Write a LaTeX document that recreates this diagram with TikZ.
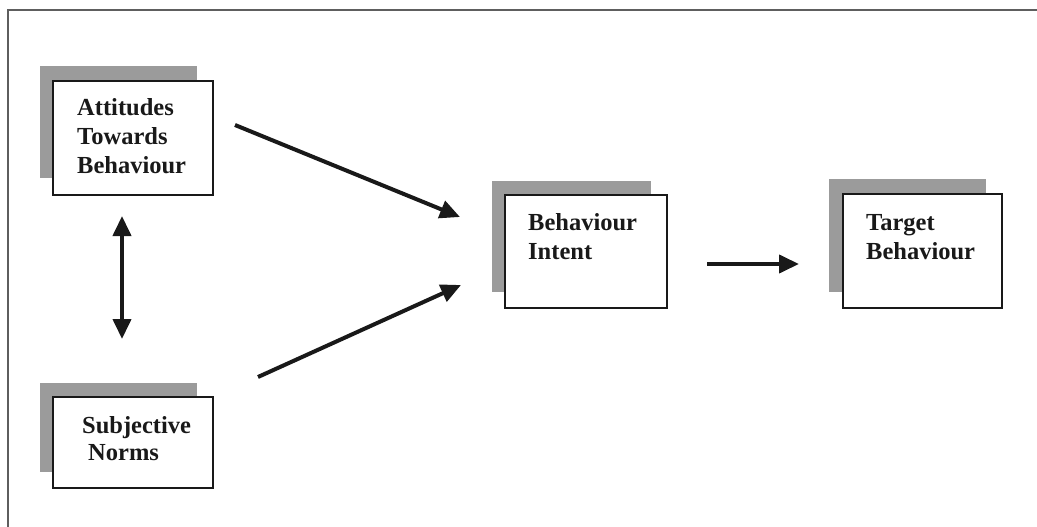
\documentclass[tikz,border=0pt]{standalone}
\usepackage{fontspec}
\setmainfont{Liberation Serif}
\usetikzlibrary{arrows.meta}
\definecolor{shade}{RGB}{155,155,155}
\definecolor{ink}{RGB}{25,25,25}
\tikzset{
  px/.style={x=1pt,y=-1pt},
  shadowbox/.style={fill=shade,draw=none},
  frontbox/.style={draw=ink,line width=1.6pt,fill=white,inner sep=0pt},
  lbl/.style={font=\bfseries\fontsize{24.5}{29}\selectfont,align=left,inner sep=0pt,anchor=base west,text=ink},
  flow/.style={draw=ink,line width=4pt,-{Triangle[length=20pt,width=18pt]}},
  both/.style={draw=ink,line width=4pt,{Triangle[length=20pt,width=18pt]}-{Triangle[length=20pt,width=18pt]}},
  frame/.style={draw=ink!70,line width=2pt}
}
\begin{document}
\begin{tikzpicture}[px]
\useasboundingbox (0,0) rectangle (1037,527);
% outer frame (top and left edges)
\draw[frame] (8,527) -- (8,10) -- (1037,10);

% shadows
\fill[shadowbox] (40,66) rectangle (197,178);
\fill[shadowbox] (40,383) rectangle (197,472);
\fill[shadowbox] (492,181) rectangle (651,292);
\fill[shadowbox] (829,179) rectangle (986,292);

% boxes
\node[frontbox,minimum width=160pt,minimum height=114pt] (att) at (133,138) {};
\node[frontbox,minimum width=160pt,minimum height=91pt] (sub) at (133,442.5) {};
\node[frontbox,minimum width=162pt,minimum height=113pt] (int) at (586,251.5) {};
\node[frontbox,minimum width=159pt,minimum height=114pt] (tgt) at (922.5,251) {};

% labels (anchored at the baseline of the last line)
\node[lbl] (attl) at (77,173) {Attitudes\\Towards\\Behaviour};
\node[lbl] (subl1) at (82,433) {Subjective};
\node[lbl] (subl2) at (88,460) {Norms};
\node[lbl] (intl) at (528,259) {Behaviour\\Intent};
\node[lbl] (tgtl) at (866,259) {Target\\Behaviour};

% connector end points
\coordinate (a1) at (235,125);
\coordinate (a2) at (460,217);
\coordinate (b1) at (258,377);
\coordinate (b2) at (461,285);
\coordinate (c1) at (707,264);
\coordinate (c2) at (799,264);
\coordinate (d1) at (122,216);
\coordinate (d2) at (122,339);

\draw[flow] (a1) -- (a2);
\draw[flow] (b1) -- (b2);
\draw[flow] (c1) -- (c2);
\draw[both] (d1) -- (d2);
\end{tikzpicture}
\end{document}
